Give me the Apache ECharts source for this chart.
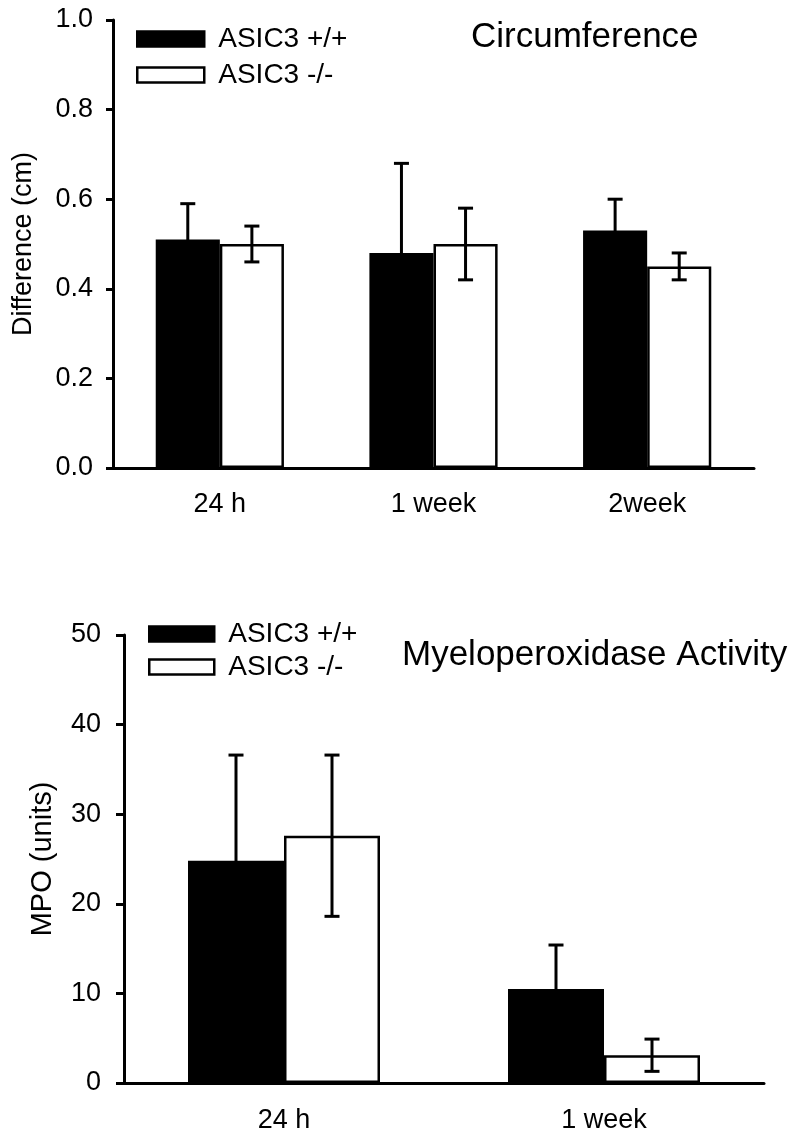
<!DOCTYPE html>
<html>
<head>
<meta charset="utf-8">
<script src="https://cdn.jsdelivr.net/npm/echarts@6/dist/echarts.min.js"></script>
<style>
html,body{margin:0;padding:0;background:#fff;}
#chart{width:800px;height:1141px;}
</style>
</head>
<body>
<div id="chart"></div>
<script>
// ---- Data ----
const categoriesTop = ['24 h', '1 week', '2week'];
const wtTop = [0.51, 0.48, 0.53];
const wtTopErr = [0.08, 0.20, 0.07];
const koTop = [0.50, 0.50, 0.45];
const koTopErr = [0.04, 0.08, 0.03];

const categoriesBottom = ['24 h', '1 week'];
const wtBottom = [24.8, 10.5];
const wtBottomErr = [11.8, 4.9];
const koBottom = [27.6, 3.1];
const koBottomErr = [9.0, 1.8];

const seriesNames = ['ASIC3 +/+', 'ASIC3 -/-'];

// ---- Styles ----
const FONT = 'Liberation Sans, Arial, sans-serif';
const INK = '#000';
const BAR_W = 0.30; // fraction of band
const TICK_FS = 27;

function errSeries(name, xIdx, yIdx, vals, errs, offset) {
  return {
    name: name + ' err',
    type: 'custom',
    xAxisIndex: xIdx,
    yAxisIndex: yIdx,
    z: 10,
    silent: true,
    data: vals.map((v, i) => [i, v, errs[i]]),
    renderItem: function (params, api) {
      const i = api.value(0), v = api.value(1), e = api.value(2);
      const band = api.size([1, 0])[0];
      const x = api.coord([i, v])[0] + offset * band;
      const yT = api.coord([i, v + e])[1];
      const yB = api.coord([i, v - e])[1];
      const hw = 7.5;
      const st = { stroke: INK, lineWidth: 3 };
      return {
        type: 'group',
        children: [
          { type: 'line', shape: { x1: x, y1: yT, x2: x, y2: yB }, style: st },
          { type: 'line', shape: { x1: x - hw, y1: yT, x2: x + hw, y2: yT }, style: st },
          { type: 'line', shape: { x1: x - hw, y1: yB, x2: x + hw, y2: yB }, style: st }
        ]
      };
    }
  };
}

const blackStyle = { color: '#000', borderColor: '#000', borderWidth: 2.5 };
const whiteStyle = { color: '#fff', borderColor: '#000', borderWidth: 2.5 };

function barSeries(name, xIdx, yIdx, vals, style) {
  return {
    name: name,
    type: 'bar',
    xAxisIndex: xIdx,
    yAxisIndex: yIdx,
    barWidth: (BAR_W * 100) + '%',
    barGap: '0%',
    itemStyle: style,
    data: vals
  };
}

function xAxisCfg(gridIndex, cats, margin, tickLen) {
  return {
    type: 'category',
    gridIndex: gridIndex,
    data: cats,
    axisLine: { lineStyle: { color: INK, width: 3 } },
    axisTick: { alignWithLabel: true, length: tickLen, lineStyle: { color: INK, width: 3 } },
    axisLabel: { color: INK, fontSize: TICK_FS, fontFamily: FONT, margin: margin },
    splitLine: { show: false }
  };
}

function yAxisCfg(gridIndex, max, interval, name, nameSize, nameGap, margin, tickLen, fmt) {
  return {
    type: 'value',
    gridIndex: gridIndex,
    min: 0, max: max, interval: interval,
    name: name,
    nameLocation: 'middle',
    nameGap: nameGap,
    nameTextStyle: { color: INK, fontSize: nameSize, fontFamily: FONT },
    axisLine: { show: true, lineStyle: { color: INK, width: 3 } },
    axisTick: { show: true, length: tickLen, lineStyle: { color: INK, width: 3 } },
    axisLabel: { color: INK, fontSize: TICK_FS, fontFamily: FONT, margin: margin, formatter: fmt },
    splitLine: { show: false }
  };
}

const legendText = { color: INK, fontSize: 28, fontFamily: FONT, padding: [0, 0, 0, 9] };

const option = {
  backgroundColor: '#fff',
  animation: false,
  title: [
    { text: 'Circumference', left: 471, top: 20, padding: 0,
      textStyle: { color: INK, fontSize: 35, fontWeight: 'normal', fontFamily: FONT } },
    { text: 'Myeloperoxidase Activity', left: 402, top: 638, padding: 0,
      textStyle: { color: INK, fontSize: 35, fontWeight: 'normal', fontFamily: FONT } }
  ],
  legend: [
    { left: 136, top: 25, orient: 'vertical', padding: 0, itemGap: 8, itemWidth: 67, itemHeight: 15,
      selectedMode: false, icon: 'rect', textStyle: legendText,
      data: [ { name: seriesNames[0], itemStyle: blackStyle }, { name: seriesNames[1], itemStyle: whiteStyle } ] },
    { left: 148, top: 620, orient: 'vertical', padding: 0, itemGap: 5, itemWidth: 65, itemHeight: 15,
      selectedMode: false, icon: 'rect', textStyle: legendText,
      data: [ { name: seriesNames[0], itemStyle: blackStyle }, { name: seriesNames[1], itemStyle: whiteStyle } ] }
  ],
  grid: [
    { left: 113, top: 20, width: 641, height: 448 },
    { left: 124, top: 635, width: 640, height: 448 }
  ],
  xAxis: [
    xAxisCfg(0, categoriesTop, 23, 7),
    xAxisCfg(1, categoriesBottom, 24, 8)
  ],
  yAxis: [
    yAxisCfg(0, 1.0, 0.2, 'Difference (cm)', 27, 76, 20, 7, v => v.toFixed(1)),
    yAxisCfg(1, 50, 10, 'MPO (units)', 29, 67, 23, 8, v => String(v))
  ],
  series: [
    barSeries(seriesNames[0], 0, 0, wtTop, blackStyle),
    barSeries(seriesNames[1], 0, 0, koTop, whiteStyle),
    errSeries(seriesNames[0], 0, 0, wtTop, wtTopErr, -BAR_W / 2),
    errSeries(seriesNames[1], 0, 0, koTop, koTopErr, BAR_W / 2),
    barSeries(seriesNames[0], 1, 1, wtBottom, blackStyle),
    barSeries(seriesNames[1], 1, 1, koBottom, whiteStyle),
    errSeries(seriesNames[0], 1, 1, wtBottom, wtBottomErr, -BAR_W / 2),
    errSeries(seriesNames[1], 1, 1, koBottom, koBottomErr, BAR_W / 2)
  ]
};

const chart = echarts.init(document.getElementById('chart'), null, { renderer: 'canvas' });
chart.setOption(option);
</script>
</body>
</html>
